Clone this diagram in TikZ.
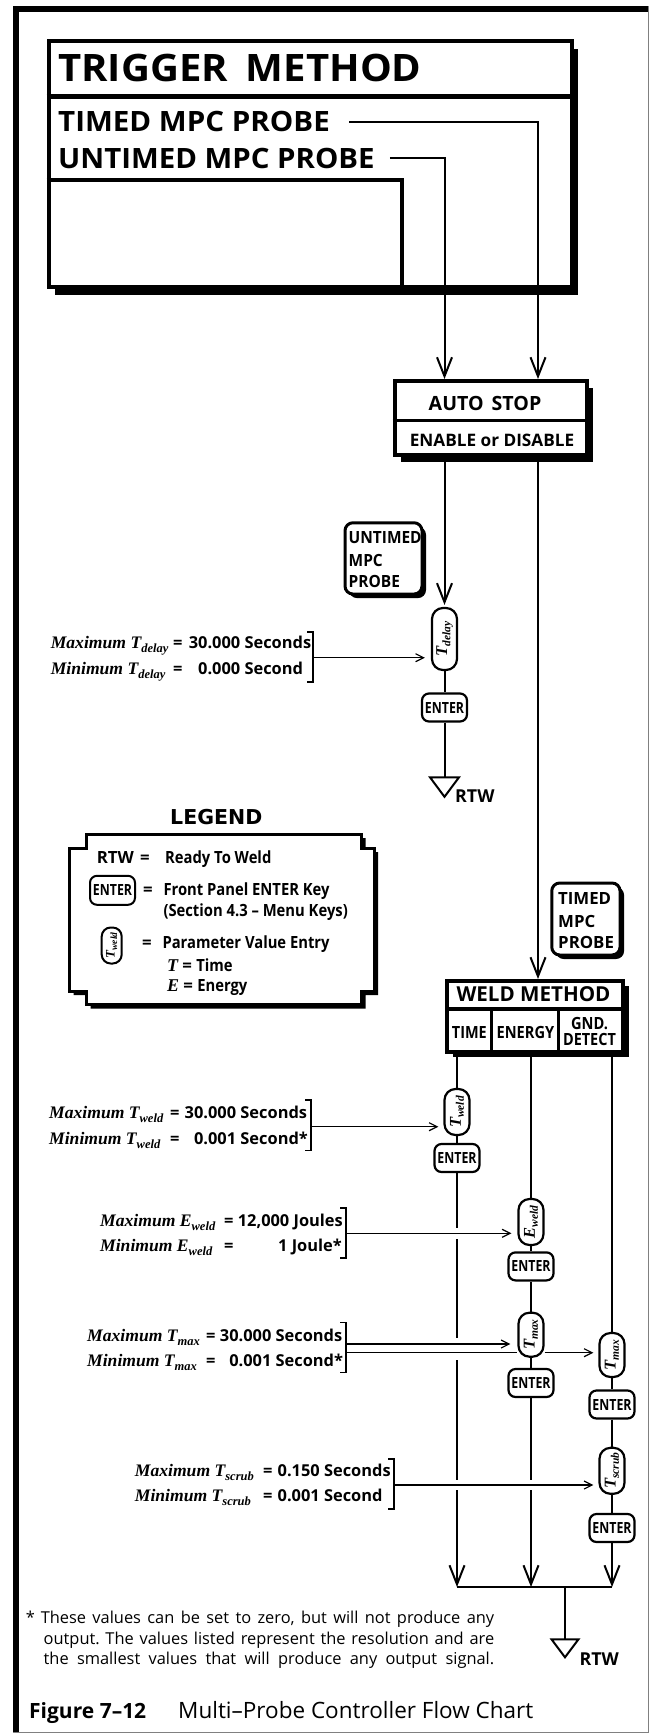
\documentclass[tikz,border=0pt]{standalone}
\usepackage{fontspec}
\usepackage{graphicx}
\setmainfont{Open Sans}
\newfontfamily\tnr{Liberation Serif}
\newfontfamily\djv{DejaVu Sans}
\usetikzlibrary{arrows.meta,shadows}
\newcommand\fsz[1]{\fontsize{#1}{#1}\selectfont}
\newcommand\Msym[2]{{\tnr\bfseries\itshape #1\raisebox{-4pt}{\fsz{12.5}#2}}}
\newcommand\Mlab[3]{{\tnr\fsz{17.6}\bfseries\itshape #1 \Msym{#2}{#3}}}
\newcommand\Pv[2]{\rotatebox{90}{\tnr\fsz{16.5}\bfseries\itshape #1\raisebox{-3.2pt}{\fsz{11.5}#2}}}
\newcommand\Pvs[2]{\rotatebox{90}{\tnr\fsz{13}\bfseries\itshape #1\raisebox{-2.5pt}{\fsz{9.5}#2}}}
\newcommand\Ent{\scalebox{0.8}[1]{ENTER}}
\newcommand\nx[1]{\scalebox{0.88}[1]{#1}}
\begin{document}
\frenchspacing
\begin{tikzpicture}[x=1pt,y=-1pt,
 conn/.style={line width=2pt},
 flow/.style={line width=2pt,-{Straight Barb[length=19pt,width=15pt,line width=2pt]}},
 harrow/.style={line width=1.2pt,-{Straight Barb[length=8pt,width=8pt,line width=1.2pt]}},
 brk/.style={line width=1.2pt},
 pill/.style={draw,fill=white,line width=2.2pt,rounded corners=11pt,minimum width=25pt,inner sep=0pt},
 ekey/.style={draw,fill=white,line width=2.2pt,rounded corners=7pt,minimum width=45pt,minimum height=28pt,inner sep=0pt,font={\bfseries\fsz{15.4}}},
 bw/.style={anchor=base west,inner sep=0pt},
 bc/.style={anchor=base,inner sep=0pt},
 be/.style={anchor=base east,inner sep=0pt},
 val/.style={font={\bfseries\fsz{16.4}}},
 hd/.style={font={\bfseries\fsz{16.8}}},
 hbox/.style={draw,fill=white,line width=4pt,inner sep=0pt},
 probe/.style={draw,fill=white,line width=3pt,rounded corners=8pt,inner sep=0pt,
   drop shadow={shadow xshift=4pt,shadow yshift=-4pt,opacity=1,fill=black}},
 ]
\useasboundingbox (0,0) rectangle (650,1733);
% page frame
\fill (13,6) rectangle (648.5,12);
\fill (13,6) rectangle (18.5,1733);
\draw[line width=1pt,gray] (648,6) -- (648,1732) -- (13,1732);

% ---------- TRIGGER METHOD box
\node[hbox,minimum width=523.5pt,minimum height=246pt,
  drop shadow={shadow xshift=6pt,shadow yshift=-8pt,opacity=1,fill=black}] (trig) at (310.25,164) {};
\coordinate (dv) at (0,96.5);
\draw[line width=4.5pt] (trig.west |- dv) -- (trig.east |- dv);
\coordinate (ibc) at (402,180);
\draw[line width=4pt] (trig.west |- ibc) -| (ibc |- trig.south);
\node[bw,font={\bfseries\fsz{37.8}}] (title) at (58,81.7) {\scalebox{1.06}[1]{TRIGGER\hspace{17pt}METHOD}};
\node[bw,font={\bfseries\fsz{28}}] (timed) at (58,131.7) {\scalebox{1.055}[1]{TIMED MPC PROBE}};
\node[bw,font={\bfseries\fsz{28}}] (untimed) at (58,168.3) {\scalebox{1.05}[1]{UNTIMED MPC PROBE}};

% ---------- AUTO STOP box
\node[hbox,minimum width=192.3pt,minimum height=73.5pt,
  drop shadow={shadow xshift=6pt,shadow yshift=-7pt,opacity=1,fill=black}] (as) at (490.85,417.75) {};
\coordinate (asd) at (0,420.8);
\draw[line width=3pt] (as.west |- asd) -- (as.east |- asd);
\node[bc,font={\bfseries\fsz{19.6}}] (astxt) at (485,410) {AUTO\hspace{8pt}STOP};
\node[bc,font={\bfseries\fsz{17.2}}] (aseo) at (492,446) {ENABLE or DISABLE};

\coordinate (colU) at (444.5,0);
\coordinate (colT) at (538,0);
\draw[flow] ([xshift=15pt]untimed.east) -| (as.north -| colU);
\draw[flow] ([xshift=19pt]timed.east) -| (as.north -| colT);

% ---------- UNTIMED MPC PROBE branch
\node[probe,minimum width=77pt,minimum height=71.3pt] (ubox) at (383.5,558.4) {};
\node[bw,hd] (u1) at (348.5,543) {\scalebox{0.92}[1]{UNTIMED}};
\node[bw,hd] (u2) at (348.5,566) {\scalebox{0.92}[1]{MPC}};
\node[bw,hd] (u3) at (348.5,587) {\scalebox{0.92}[1]{PROBE}};

\node[pill,minimum height=62pt] (tdelay) at (444.5,639) {\Pv{T}{delay}};
\node[ekey] (ent1) at (444.5,707.5) {\Ent};
\draw[flow,shorten >=2pt] (as.south -| colU) -- (tdelay.north);
\draw[conn] (tdelay.south) -- (ent1.north);
\coordinate (rtw1) at (444.5,777.3);
\draw[conn] (ent1.south) -- (rtw1);
\draw[line width=2pt] ([xshift=-14.5pt]rtw1) -- ([xshift=14.5pt]rtw1) -- ([yshift=-19.5pt]rtw1) -- cycle;
\node[bw,font={\bfseries\fsz{17.8}}] (rtwl1) at (455,802.7) {RTW};

% T delay values
\draw[brk] (307,632) -- (313,632) -- (313,682) -- (307,682);
\coordinate (b1) at (313,657.7);
\draw[harrow,shorten >=6pt] (b1) -- (b1 -| tdelay.west);
\node[bw] (l1a) at (50.6,648.3) {\Mlab{Maximum}{T}{delay}};
\node[bw] (l1b) at (50.6,674.3) {\Mlab{Minimum}{T}{delay}};
\node[bw,val] (e1a) at (173,648.3) {=};
\node[bw,val] (e1b) at (173,674.3) {=};
\node[bw,val] (v1a) at (188.6,648.3) {30.000 Seconds};
\node[bw,val] (v1b) at (188.6,674.3) {\phantom{3}0.000 Second};

% ---------- LEGEND
\node[bw,font={\djv\bfseries\fsz{20.5}}] (legt) at (170,824) {LEGEND};
\fill[shift={(4,4)}] (86.5,834) -- (361.5,834) -- (361.5,848) -- (374,848) -- (374,991) -- (361.5,991) -- (361.5,1004.5) -- (86.5,1004.5) -- (86.5,991) -- (69.7,991) -- (69.7,848) -- (86.5,848) -- cycle;
\draw[fill=white,line width=3pt] (86.5,834) -- (361.5,834) -- (361.5,848) -- (374,848) -- (374,991) -- (361.5,991) -- (361.5,1004.5) -- (86.5,1004.5) -- (86.5,991) -- (69.7,991) -- (69.7,848) -- (86.5,848) -- cycle;
\node[bw,hd] (lg1a) at (96.7,863.3) {RTW};
\node[bw,hd] (lg1e) at (140,863.3) {=};
\node[bw,hd] (lg1) at (165,863.3) {\nx{Ready To Weld}};
\node[ekey,minimum height=29pt,line width=2pt] (lgent) at (112.5,890.3) {\Ent};
\node[bw,hd] (lg2e) at (143,895.7) {=};
\node[bw,hd] (lg2) at (163.3,895.7) {\nx{Front Panel ENTER Key}};
\node[bw,hd] (lg3) at (163.3,916.7) {\nx{(Section 4.3 -- Menu Keys)}};
\node[pill,minimum width=20pt,minimum height=36pt,line width=2pt,rounded corners=9pt] (lgpill) at (111.7,945.5) {\Pvs{T}{weld}};
\node[bw,hd] (lg4e) at (142,948.3) {=};
\node[bw,hd] (lg4) at (162.3,948.3) {\nx{Parameter Value Entry}};
\node[bw,hd] (lg5) at (162.3,971.7) {{\tnr\bfseries\itshape\fsz{18} T} = \nx{Time}};
\node[bw,hd] (lg6) at (162.3,991.7) {{\tnr\bfseries\itshape\fsz{18} E} = \nx{Energy}};

% ---------- TIMED MPC PROBE and WELD METHOD
\node[probe,minimum width=68.3pt,minimum height=72pt] (tbox) at (585.9,919) {};
\node[bw,hd] (t1) at (558,904) {TIMED};
\node[bw,hd] (t2) at (558,927) {MPC};
\node[bw,hd] (t3) at (558,948) {PROBE};

\node[hbox,minimum width=175.5pt,minimum height=71.3pt,
  drop shadow={shadow xshift=6pt,shadow yshift=-5pt,opacity=1,fill=black}] (wm) at (534.75,1016.65) {};
\draw[flow] (as.south -| colT) -- (wm.north -| colT);
\coordinate (wmd) at (0,1009);
\draw[line width=3.5pt] (wm.west |- wmd) -- (wm.east |- wmd);
\coordinate (cd1) at (491.7,1009);
\coordinate (cd2) at (558.3,1009);
\draw[line width=2.5pt] (cd1) -- (cd1 |- wm.south);
\draw[line width=2.5pt] (cd2) -- (cd2 |- wm.south);
\node[bc,font={\bfseries\fsz{20.6}}] (wmt) at (533.5,1001.7) {WELD METHOD};
\node[bc,hd] (ct) at (469.4,1038) {\scalebox{0.86}[1]{TIME}};
\node[bc,hd] (ce) at (525.4,1038) {\scalebox{0.87}[1]{ENERGY}};
\node[bc,hd] (cg1) at (589.5,1029) {\scalebox{0.87}[1]{GND.}};
\node[bc,hd] (cg2) at (589.5,1045.7) {\scalebox{0.86}[1]{DETECT}};

% columns
\coordinate (cT) at (457,0);
\coordinate (cE) at (531,0);
\coordinate (cG) at (612,0);
% TIME column
\node[pill,minimum height=46pt] (tweld) at (457,1112) {\Pv{T}{weld}};
\node[ekey] (entTW) at (457,1158) {\Ent};
% ENERGY column
\node[pill,minimum height=46pt] (eweld) at (531,1222) {\Pv{E}{weld}};
\node[ekey] (entEW) at (531,1266.4) {\Ent};
\node[pill,minimum height=44pt] (tmaxE) at (531,1334.7) {\Pv{T}{max}};
\node[ekey] (entTM) at (531,1383) {\Ent};
% GND column
\node[pill,minimum height=44pt] (tmaxG) at (612,1355) {\Pv{T}{max}};
\node[ekey] (entGT) at (612,1404.5) {\Ent};
\node[pill,minimum height=46pt] (tscrub) at (612,1470.8) {\Pv{T}{scrub}};
\node[ekey] (entGS) at (612,1528) {\Ent};

\coordinate (mrg) at (0,1587);
\draw[conn] (wm.south -| cT) -- (tweld.north);
\draw[conn] (tweld.south) -- (entTW.north);
\draw[flow] (entTW.south) -- (entTW.south |- mrg);
\draw[conn] (wm.south -| cE) -- (eweld.north);
\draw[conn] (eweld.south) -- (entEW.north);
\draw[conn] (entEW.south) -- (tmaxE.north);
\draw[conn] (tmaxE.south) -- (entTM.north);
\draw[flow] (entTM.south) -- (entTM.south |- mrg);
\draw[conn] (wm.south -| cG) -- (tmaxG.north);
\draw[conn] (tmaxG.south) -- (entGT.north);
\draw[conn] (entGT.south) -- (tscrub.north);
\draw[conn] (tscrub.south) -- (entGS.north);
\draw[flow] (entGS.south) -- (entGS.south |- mrg);
\draw[line width=2.5pt] (entTW.south |- mrg) -- (entGS.south |- mrg);
\coordinate (rtw2) at (565,1639.3);
\draw[conn] (rtw2 |- mrg) -- (rtw2);
\draw[line width=2pt] ([xshift=-13.5pt]rtw2) -- ([xshift=13.5pt]rtw2) -- ([yshift=-18pt]rtw2) -- cycle;
\node[bw,font={\bfseries\fsz{17.8}}] (rtwl2) at (579.3,1665.7) {RTW};

% line hops (gaps in vertical lines)
\fill[white] (454,1228) rectangle (460,1238.5);
\fill[white] (454,1338) rectangle (460,1360);
\fill[white] (454,1480) rectangle (460,1490);
\fill[white] (528,1480) rectangle (534,1490);

% T weld values
\draw[brk] (305,1100) -- (311,1100) -- (311,1150.7) -- (305,1150.7);
\coordinate (b2) at (311,1126.7);
\draw[harrow,shorten >=5pt] (b2) -- (b2 -| tweld.west);
\node[bw] (l2a) at (49,1118.3) {\Mlab{Maximum}{T}{weld}};
\node[bw] (l2b) at (49,1144) {\Mlab{Minimum}{T}{weld}};
\node[bw,val] (e2a) at (170,1118.3) {=};
\node[bw,val] (e2b) at (170,1144) {=};
\node[bw,val] (v2a) at (184.5,1118.3) {30.000 Seconds};
\node[bw,val] (v2b) at (184.5,1144) {\phantom{3}0.001 Second*};

% E weld values
\draw[brk] (340,1208) -- (346,1208) -- (346,1258) -- (340,1258);
\coordinate (b3) at (346,1233.3);
\draw[harrow,shorten >=6pt] (b3) -- (b3 -| eweld.west);
\node[bw] (l3a) at (100,1226.7) {\Mlab{Maximum}{E}{weld}};
\node[bw] (l3b) at (100,1251.7) {\Mlab{Minimum}{E}{weld}};
\node[bw,val] (e3a) at (224,1226.7) {=};
\node[bw,val] (e3b) at (224,1251.7) {=};
\node[be,val] (v3a) at (343,1226.7) {12,000 Joules};
\node[be,val] (v3b) at (342,1251.7) {1 Joule*};

% T max values
\draw[brk] (340,1322.7) -- (346,1322.7) -- (346,1372.7) -- (340,1372.7);
\coordinate (b4a) at (346,1344);
\coordinate (b4b) at (346,1352.7);
\draw[harrow,shorten >=7pt] (b4a) -- (b4a -| tmaxE.west);
\draw[line width=1.2pt] (b4b) -- (b4b -| tmaxE.west);
\draw[harrow,shorten >=5pt] (b4b -| tmaxE.east) -- (b4b -| tmaxG.west);
\node[bw] (l4a) at (87,1341.7) {\Mlab{Maximum}{T}{max}};
\node[bw] (l4b) at (87,1366.7) {\Mlab{Minimum}{T}{max}};
\node[bw,val] (e4a) at (206,1341.7) {=};
\node[bw,val] (e4b) at (206,1366.7) {=};
\node[bw,val] (v4a) at (219.7,1341.7) {30.000 Seconds};
\node[bw,val] (v4b) at (219.7,1366.7) {\phantom{3}0.001 Second*};

% T scrub values
\draw[brk] (388,1459) -- (394,1459) -- (394,1509) -- (388,1509);
\coordinate (b5) at (394,1485);
\draw[harrow,shorten >=5pt] (b5) -- (b5 -| tscrub.west);
\node[bw] (l5a) at (134.7,1476.7) {\Mlab{Maximum}{T}{scrub}};
\node[bw] (l5b) at (134.7,1501.7) {\Mlab{Minimum}{T}{scrub}};
\node[bw,val] (e5a) at (263,1476.7) {=};
\node[bw,val] (e5b) at (263,1501.7) {=};
\node[bw,val] (v5a) at (277.5,1476.7) {0.150 Seconds};
\node[bw,val] (v5b) at (277.5,1501.7) {0.001 Second};

% footnote
\node[bw,font=\fsz{16.4}] (fn0) at (25.7,1623.3) {*};
\node[bw,font=\fsz{16.4}] (fn1) at (40.6,1623.3) {\makebox[453.4pt][s]{These values can be set to zero, but will not produce any}};
\node[bw,font=\fsz{16.4}] (fn2) at (43.5,1644) {\makebox[450.5pt][s]{output. The values listed represent the resolution and are}};
\node[bw,font=\fsz{16.4}] (fn3) at (43.5,1664) {\makebox[450.5pt][s]{the smallest values that will produce any output signal.}};

% caption
\node[bw,font={\bfseries\fsz{21}}] (capa) at (29,1718.3) {Figure 7--12};
\node[bw,font=\fsz{22.5}] (capb) at (178,1718.3) {Multi--Probe Controller Flow Chart};
\end{tikzpicture}
\end{document}
